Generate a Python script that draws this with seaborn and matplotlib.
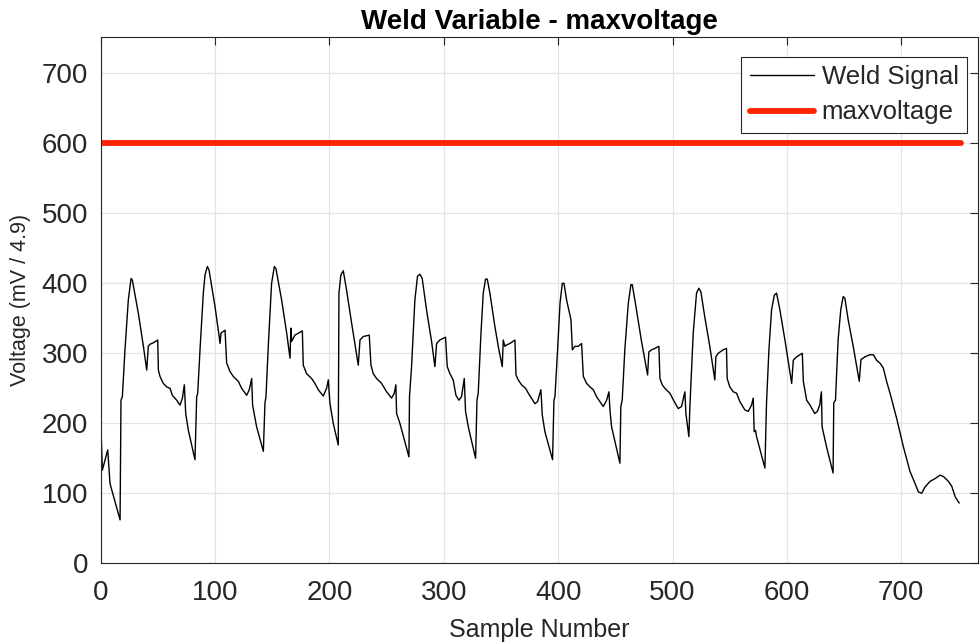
import numpy as np
import pandas as pd
import matplotlib
matplotlib.use("Agg")
import matplotlib.pyplot as plt
import seaborn as sns

# --------------------------------------------------
# WELD SIGNAL DATA (vertices)
# --------------------------------------------------

sample_number = [
    0, 1.4, 6.1, 8.1, 9.6, 16.9, 17.7, 18.9, 21.2, 24.1, 26.5, 27.6, 32.9, 37.3,
    40.2, 41.6, 43.1, 46.0, 49.8, 50.4, 51.8, 54.7, 57.7, 60.6, 62.6, 66.4, 69.3,
    71.4, 73.1, 74.3, 76.6, 82.4, 83.9, 84.8, 86.8, 89.7, 91.2, 93.2, 94.7, 99.9,
    103.4, 104.3, 105.2, 108.7, 110.1, 113.0, 115.9, 120.3, 123.2, 127.6, 129.9,
    132.0, 132.8, 136.3, 142.2, 143.6, 144.5, 146.5, 149.4, 151.8, 153.2, 158.2,
    162.6, 165.5, 166.3, 166.9, 169.8, 176.3, 177.1, 180.0, 184.4, 187.3, 190.2,
    194.6, 197.5, 199.0, 200.4, 203.3, 207.7, 208.3, 210.0, 212.1, 215.0, 219.4,
    225.2, 226.7, 229.6, 234.8, 236.3, 238.3, 241.2, 245.6, 250.0, 254.3, 256.7,
    258.1, 258.7, 261.6, 269.5, 270.0, 271.8, 274.7, 277.0, 279.1, 281.1, 284.9,
    289.3, 292.2, 293.7, 296.5, 301.5, 303.0, 305.3, 308.2, 310.6, 313.2, 315.5,
    317.9, 319.0, 321.4, 327.8, 329.0, 330.1, 332.5, 334.5, 336.5, 338.0, 340.3,
    344.7, 347.6, 351.1, 352.0, 353.4, 354.9, 357.8, 362.2, 363.1, 365.1, 368.0,
    371.5, 373.9, 377.4, 379.7, 382.0, 384.9, 386.1, 388.4, 395.1, 396.3, 397.2,
    399.5, 401.6, 403.6, 405.1, 407.4, 411.2, 412.4, 414.7, 417.6, 420.5, 422.0,
    424.9, 427.8, 430.7, 433.6, 439.4, 442.4, 444.4, 445.3, 446.7, 454.0, 454.8,
    456.0, 458.3, 461.3, 463.6, 464.8, 467.1, 472.9, 478.2, 479.3, 481.7, 484.6,
    488.1, 489.0, 491.0, 493.3, 497.7, 501.5, 505.0, 507.9, 510.8, 511.7, 514.3,
    515.2, 518.1, 521.0, 523.0, 524.8, 528.2, 532.6, 537.0, 537.9, 539.9, 544.3,
    547.2, 547.8, 550.1, 553.1, 556.0, 558.9, 563.3, 566.2, 569.1, 570.6, 571.4,
    572.6, 573.5, 580.8, 582.2, 584.3, 586.6, 589.0, 591.0, 593.9, 598.3, 604.2,
    605.6, 608.5, 613.5, 614.4, 617.3, 620.2, 624.4, 626.7, 628.7, 630.2, 630.8,
    634.6, 640.4, 641.0, 642.5, 644.8, 647.1, 649.2, 650.7, 653.6, 658.0, 663.3,
    664.8, 668.3, 672.7, 675.6, 678.5, 681.4, 684.3, 687.2, 690.2, 696.0, 701.8,
    707.7, 712.1, 715.0, 717.9, 720.8, 725.2, 729.6, 734.0, 736.9, 741.3, 744.2,
    747.2, 750.7,
]

weld_signal = [
    205, 133, 162, 114, 105, 62, 233, 238, 305, 376, 407, 405, 357, 310,
    276, 310, 313, 315, 319, 276, 267, 257, 252, 250, 240, 233, 226,
    236, 255, 214, 190, 148, 238, 243, 305, 386, 412, 424, 419, 367,
    326, 314, 329, 333, 286, 274, 267, 260, 250, 240, 248,
    264, 226, 195, 160, 229, 238, 310, 400, 424, 421, 376,
    329, 293, 336, 317, 326, 332, 283, 271, 264, 257, 248,
    239, 250, 262, 229, 200, 169, 386, 412, 418, 390, 343,
    283, 319, 324, 326, 283, 271, 264, 257, 245, 236, 243,
    255, 214, 200, 152, 238, 281, 376, 410, 413, 407, 362,
    317, 281, 314, 319, 323, 281, 271, 262, 240, 233, 238,
    264, 217, 195, 150, 233, 243, 329, 386, 406, 406, 386,
    338, 310, 281, 319, 310, 312, 314, 319, 269, 262, 255,
    250, 243, 234, 228, 231, 248, 212, 188, 148, 233, 238,
    305, 371, 400, 400, 376, 348, 305, 310, 310, 314, 267,
    257, 252, 248, 238, 224, 233, 245, 219, 195, 143, 224,
    233, 305, 371, 398, 398, 376, 317, 269, 302, 305, 307,
    310, 264, 255, 250, 243, 231, 221, 224, 245, 214, 181,
    224, 329, 386, 393, 388, 352, 310, 262, 295, 300, 305,
    307, 264, 252, 245, 243, 231, 219, 217, 226, 236, 188,
    190, 181, 136, 229, 305, 362, 383, 386, 362, 319, 257,
    290, 295, 300, 260, 233, 226, 214, 217, 226, 245, 195,
    167, 129, 229, 233, 319, 362, 381, 379, 348, 310, 260,
    291, 295, 298, 298, 290, 286, 279, 260, 243, 207, 167,
    131, 114, 102, 100, 109, 117, 121, 126, 124, 117, 110,
    95, 86,
]

# threshold line
limit_name = "maxvoltage"
limit_x = [0, 752]
limit_y = [600, 600]

df = pd.DataFrame({"sample": sample_number, "signal": weld_signal})
lim = pd.DataFrame({"sample": limit_x, "value": limit_y})

# --------------------------------------------------
# PLOT
# --------------------------------------------------

sns.set_style("whitegrid")
plt.rcParams["font.family"] = ["Liberation Sans", "DejaVu Sans"]

fig = plt.figure(figsize=(9.8, 6.43), dpi=100)
ax = fig.add_axes([0.1028, 0.124, 0.895, 0.8185])

sns.lineplot(data=df, x="sample", y="signal", color="black", linewidth=1.0,
             label="Weld Signal", ax=ax, estimator=None)
sns.lineplot(data=lim, x="sample", y="value", color="#ff2200", linewidth=4.2,
             label=limit_name, ax=ax, estimator=None)

ax.set_xlim(0, 767)
ax.set_ylim(0, 752)
ax.set_xticks(np.arange(0, 701, 100))
ax.set_yticks(np.arange(0, 701, 100))

ax.grid(True, color="#e3e3e3", linewidth=0.9)
for side in ax.spines.values():
    side.set_color("#262626")
    side.set_linewidth(0.8)

ax.tick_params(axis="both", direction="in", length=6, width=0.8,
               labelsize=20, colors="#262626", top=True, right=True,
               pad=9)
ax.tick_params(axis="x", pad=12)

ax.set_title("Weld Variable - maxvoltage", fontsize=20, fontweight="bold",
             color="black", pad=6)
ax.set_xlabel("Sample Number", fontsize=18, color="#262626", labelpad=9)
ax.set_ylabel("Voltage (mV / 4.9)", fontsize=15.5, color="#262626", labelpad=8)

leg = ax.legend(loc="upper right", bbox_to_anchor=(0.9875, 0.962),
                borderaxespad=0, fontsize=18.5, frameon=True, fancybox=False,
                handlelength=2.5, handletextpad=0.3, borderpad=0.32,
                labelspacing=0.44)
leg.get_frame().set_edgecolor("#262626")
leg.get_frame().set_linewidth(0.8)
leg.get_frame().set_alpha(1)

plt.savefig("out.png", dpi=100)
